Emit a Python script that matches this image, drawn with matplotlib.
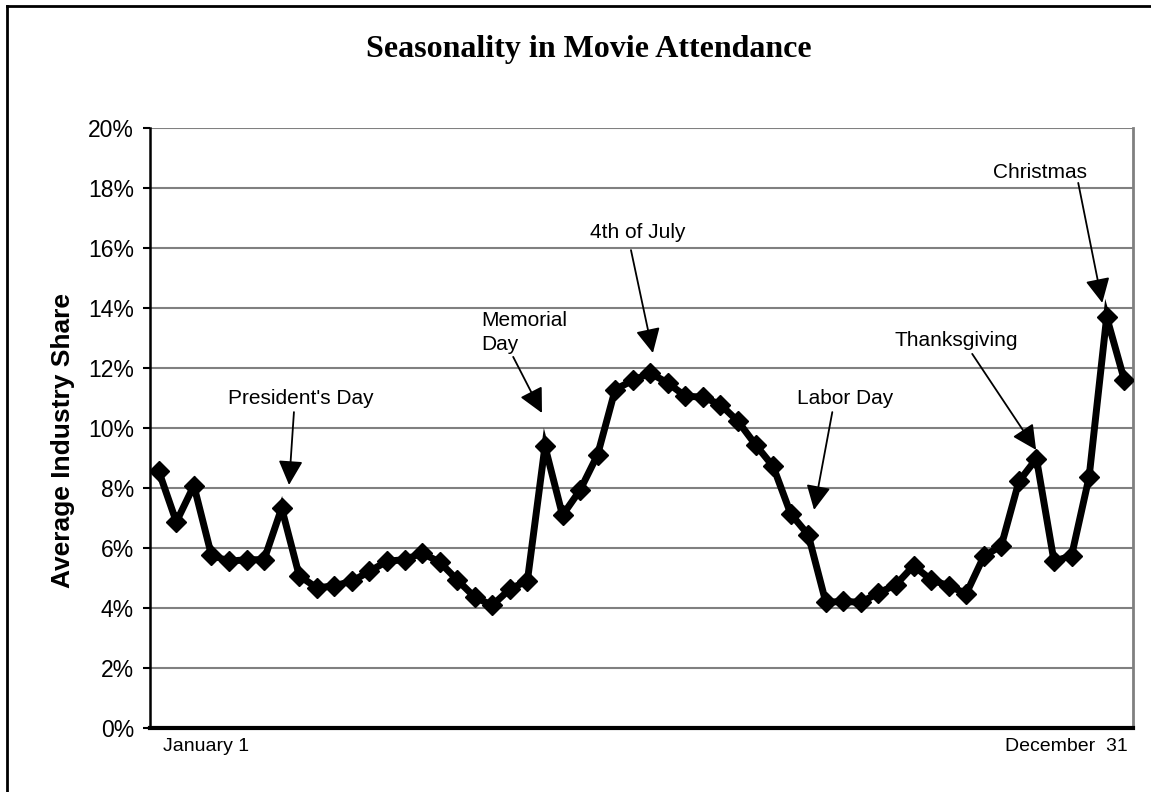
import matplotlib
matplotlib.use("Agg")
import matplotlib.pyplot as plt
from matplotlib.lines import Line2D
from matplotlib.ticker import FuncFormatter

# weekly average industry share (%)
share = [8.56, 6.87, 8.08, 5.76, 5.56, 5.61, 5.61, 7.33, 5.08, 4.67,
         4.74, 4.89, 5.22, 5.56, 5.61, 5.83, 5.53, 4.94, 4.36, 4.09,
         4.63, 4.91, 9.39, 7.09, 7.93, 9.11, 11.28, 11.59, 11.83, 11.50,
         11.06, 11.03, 10.78, 10.22, 9.44, 8.72, 7.14, 6.44, 4.19, 4.22,
         4.19, 4.50, 4.78, 5.41, 4.94, 4.74, 4.48, 5.72, 6.08, 8.22,
         8.98, 5.56, 5.74, 8.37, 13.70, 11.61]

y_ticks = [0, 2, 4, 6, 8, 10, 12, 14, 16, 18, 20]
x_labels = ["January 1", "December  31"]

holidays = ["President's Day", "Memorial\nDay", "4th of July",
            "Labor Day", "Thanksgiving", "Christmas"]

# (text x, text y, tail x, tail y, tip x, tip y, ha, va) in data coords
notes = [
    (8.1, 10.97, 7.7, 10.53, 7.42, 8.10, "center", "center"),
    (18.36, 13.9, 20.19, 12.37, 21.83, 10.50, "left", "top"),
    (27.3, 16.5, 26.9, 15.93, 28.15, 12.50, "center", "center"),
    (39.1, 11.0, 38.37, 10.53, 37.33, 7.27, "center", "center"),
    (45.44, 12.93, 46.34, 12.47, 49.98, 9.27, "center", "center"),
    (50.2, 18.53, 52.38, 18.17, 53.75, 14.17, "center", "center"),
]

fig = plt.figure(figsize=(11.51, 7.92), dpi=100)
ax = fig.add_axes([150 / 1151, 64 / 792, 983 / 1151, 600 / 792])

x = list(range(len(share)))
ax.plot(x, share, color="black", lw=5, marker="D", markersize=10,
        solid_joinstyle="miter", zorder=3)

ax.set_xlim(-0.5, len(share) - 0.5)
ax.set_ylim(0, 20)
ax.set_yticks(y_ticks)
ax.yaxis.set_major_formatter(FuncFormatter(lambda v, p: "%d%%" % v))
ax.grid(axis="y", color="#808080", lw=1.5)
ax.set_axisbelow(True)

ax.set_xticks([2.7, 51.7])
ax.set_xticklabels(x_labels)
ax.tick_params(axis="x", length=0, pad=7, labelsize=14)
ax.tick_params(axis="y", length=5, width=1.5, pad=6.5, labelsize=16.5,
               direction="out", color="black")
for lab in ax.get_xticklabels() + ax.get_yticklabels():
    lab.set_family("Liberation Sans")

ax.spines["top"].set_visible(False)
ax.spines["left"].set_color("black")
ax.spines["left"].set_linewidth(1.8)
ax.spines["bottom"].set_color("black")
ax.spines["bottom"].set_linewidth(3)
ax.spines["right"].set_color("#808080")
ax.spines["right"].set_linewidth(2)

for name, (tx, ty, ax0, ay0, ax1, ay1, ha, va) in zip(holidays, notes):
    ax.text(tx, ty, name, ha=ha, va=va, fontsize=15,
            family="Liberation Sans", linespacing=1.3)
    ax.annotate("", xy=(ax1, ay1), xytext=(ax0, ay0),
                arrowprops=dict(arrowstyle="-|>,head_length=1.0,head_width=0.5",
                                mutation_scale=15, color="black", lw=1.3,
                                shrinkA=0, shrinkB=0))

fig.text(589 / 1151, 1 - 50 / 792, "Seasonality in Movie Attendance",
         ha="center", va="center", fontsize=23, fontweight="bold",
         family="Liberation Serif")
fig.text(63 / 1151, 1 - 440 / 792, "Average Industry Share", rotation=90,
         ha="center", va="center", fontsize=19, fontweight="bold",
         family="Liberation Sans")

# outer chart border (only top and left edges visible)
fig.add_artist(Line2D([7 / 1151, 7 / 1151], [0, 1 - 6 / 792],
                      color="black", lw=2, transform=fig.transFigure))
fig.add_artist(Line2D([7 / 1151, 1], [1 - 6 / 792, 1 - 6 / 792],
                      color="black", lw=2, transform=fig.transFigure))

fig.savefig("out.png", dpi=100)
